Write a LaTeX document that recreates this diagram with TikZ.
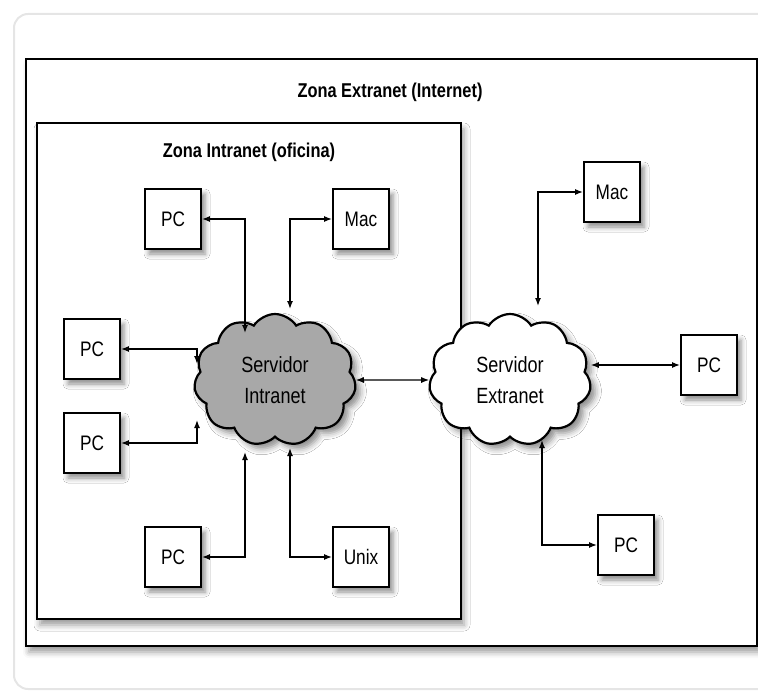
\documentclass[tikz,border=0pt]{standalone}
\usepackage{fontspec}
\setmainfont{Liberation Sans}[FakeStretch=0.82]
\usetikzlibrary{arrows.meta,shapes.symbols,shadows.blur}

\begin{document}
\begin{tikzpicture}[x=1pt,y=-1pt,
  zonebox/.style={draw, line width=1.8pt, fill=white,
    blur shadow={shadow xshift=3pt, shadow yshift=-6pt, shadow blur radius=6pt, shadow opacity=40}},
  zonetitle/.style={font=\bfseries\fontsize{20}{24}\selectfont},
  hostbox/.style={draw, line width=1.8pt, fill=white, inner sep=0pt,
    minimum width=56pt, minimum height=60pt, font=\fontsize{21}{24}\selectfont,
    blur shadow={shadow xshift=4pt, shadow yshift=-5pt, shadow blur radius=5pt, shadow opacity=45}},
  server/.style={cloud, cloud puffs=11, cloud puff arc=115, aspect=1.25, draw,
    line width=2.2pt, inner sep=0pt, minimum width=162pt, minimum height=132pt,
    align=center, font=\fontsize{22}{31}\selectfont,
    blur shadow={shadow xshift=5pt, shadow yshift=-5pt, shadow blur radius=6pt, shadow opacity=45}},
  link/.style={line width=1.4pt, {Latex[length=8pt,width=6pt]}-{Latex[length=8pt,width=6pt]}}
]
  \useasboundingbox (0,0) rectangle (758,693);
  \clip (0,0) rectangle (758,693);

  % page frame
  \draw[gray!20, line width=2pt, rounded corners=14pt] (14,14) rectangle (800,689);

  % zones
  \draw[zonebox] (26,59) rectangle (757,646);
  \node[zonetitle] (titleE) at (390,92) {Zona Extranet (Internet)};
  \draw[zonebox] (37,123) rectangle (461,619);
  \node[zonetitle] (titleI) at (249,152) {Zona Intranet (oficina)};

  % servers
  \node[server, fill=black!34] (srvI) at (275,380) {Servidor\\Intranet};
  \node[server, fill=white] (srvE) at (510,380) {Servidor\\Extranet};

  % intranet hosts
  \node[hostbox] (pcI1) at (173,219) {PC};
  \node[hostbox] (macI) at (361,219) {Mac};
  \node[hostbox] (pcL1) at (92,349) {PC};
  \node[hostbox] (pcL2) at (92,443) {PC};
  \node[hostbox] (pcI2) at (173,557) {PC};
  \node[hostbox] (unix) at (361,557) {Unix};

  % extranet hosts
  \node[hostbox] (macE) at (612,192) {Mac};
  \node[hostbox] (pcE1) at (709,365) {PC};
  \node[hostbox] (pcE2) at (626,545) {PC};

  % cloud ends
  \coordinate (tipI1) at (245,333);
  \coordinate (tipI2) at (290,309);
  \coordinate (tipI3) at (197,364);
  \coordinate (tipI4) at (197,420);
  \coordinate (tipI5) at (245,452);
  \coordinate (tipI6) at (290,448);
  \coordinate (tipE1) at (538,306);
  \coordinate (tipE2) at (542,440);

  % links
  \draw[link] (pcI1.east) -| (tipI1);
  \draw[link] (macI.west) -| (tipI2);
  \draw[link] (pcL1.east) -| (tipI3);
  \draw[link] (pcL2.east) -| (tipI4);
  \draw[link] (pcI2.east) -| (tipI5);
  \draw[link] (unix.west) -| (tipI6);
  \draw[link] (srvI.east) -- (srvE.west);
  \draw[link] (macE.west) -| (tipE1);
  \draw[link] (pcE1.west) -- (pcE1.west -| srvE.east);
  \draw[link] (pcE2.west) -| (tipE2);
\end{tikzpicture}
\end{document}
